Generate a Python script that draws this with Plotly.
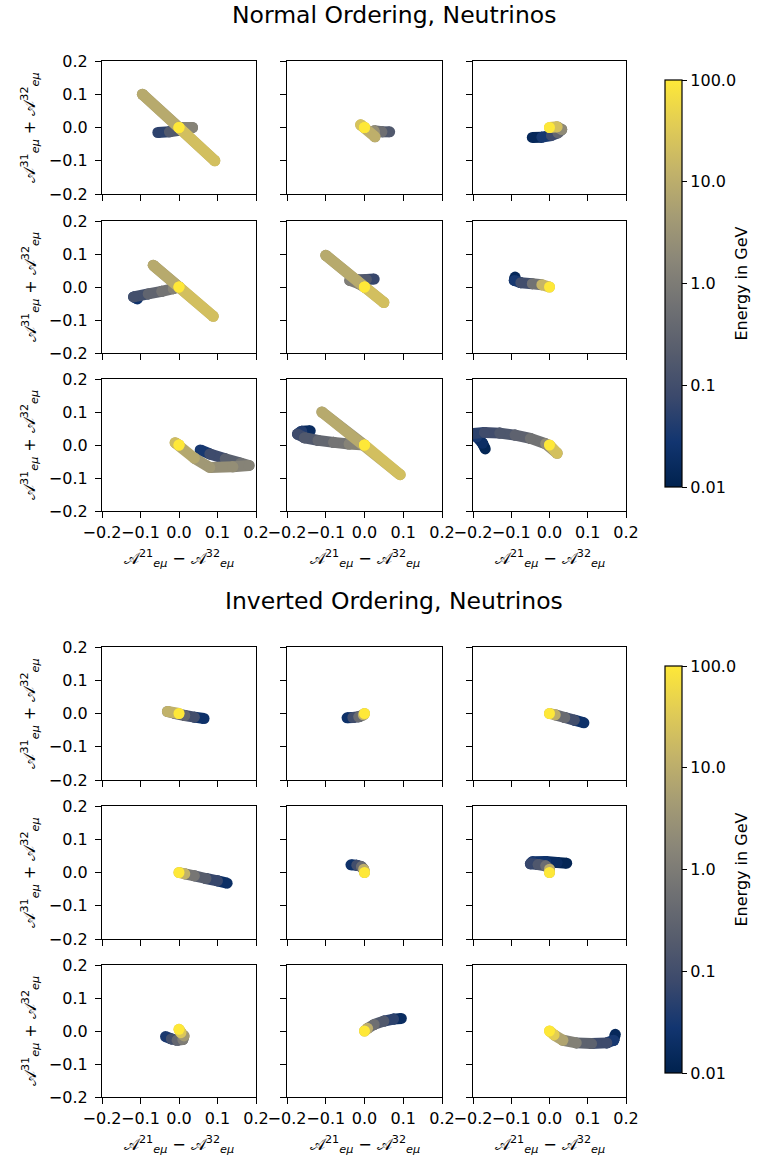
import math
import plotly.graph_objects as go

W, H = 780, 1164

# ---------------- data ----------------
# Normal ordering panels (row-major)
no1_x = [-0.055, -0.025, 0.005, 0.035, 0.0, -0.095, 0.093, 0.0, 0.0]
no1_y = [-0.015, -0.013, -0.008, 0.0, 0.0, 0.1, -0.1, 0.0, 0.0]
no1_e = [0.03, 0.1, 0.3, 1.0, 2.0, 5.0, 15.0, 30.0, 100.0]

no2_x = [0.065, 0.045, 0.025, 0.027, -0.01, 0.0, 0.0]
no2_y = [-0.013, -0.013, -0.01, -0.028, 0.008, 0.0, 0.0]
no2_e = [0.1, 0.3, 1.0, 6.0, 20.0, 30.0, 100.0]

no3_x = [-0.045, -0.02, 0.005, 0.022, 0.032, 0.02, 0.0]
no3_y = [-0.03, -0.029, -0.024, -0.016, -0.006, 0.002, 0.0]
no3_e = [0.01, 0.02, 0.05, 0.15, 0.8, 5.0, 100.0]

no4_x = [-0.108, -0.118, -0.08, -0.045, -0.015, 0.0, -0.067, 0.089, 0.0, 0.0]
no4_y = [-0.036, -0.03, -0.021, -0.013, -0.005, 0.0, 0.066, -0.089, 0.0, 0.0]
no4_e = [0.01, 0.06, 0.2, 0.5, 1.0, 2.0, 5.0, 15.0, 30.0, 100.0]

no5_x = [0.025, 0.005, -0.02, -0.038, -0.015, 0.0, -0.1, 0.05, 0.0, 0.0]
no5_y = [0.024, 0.023, 0.022, 0.02, 0.01, 0.0, 0.096, -0.047, 0.0, 0.0]
no5_e = [0.05, 0.1, 0.3, 0.8, 1.5, 2.5, 5.0, 15.0, 30.0, 100.0]

no6_x = [-0.09, -0.092, -0.075, -0.045, -0.02, 0.0]
no6_y = [0.03, 0.02, 0.013, 0.01, 0.007, 0.0]
no6_e = [0.01, 0.02, 0.05, 0.2, 2.0, 100.0]

no7_x = [0.055, 0.08, 0.12, 0.16, 0.182, 0.14, 0.08, 0.04, -0.01, 0.0, 0.0]
no7_y = [-0.015, -0.027, -0.042, -0.055, -0.062, -0.066, -0.068, -0.04, 0.007, 0.0, 0.0]
no7_e = [0.02, 0.05, 0.15, 0.4, 1.0, 2.0, 3.0, 5.0, 12.0, 30.0, 100.0]

no8_x = [-0.14, -0.162, -0.173, -0.155, -0.12, -0.08, -0.04, 0.0, -0.11, 0.092, 0.0, 0.0]
no8_y = [0.043, 0.042, 0.033, 0.022, 0.014, 0.008, 0.003, 0.0, 0.1, -0.09, 0.0, 0.0]
no8_e = [0.01, 0.03, 0.06, 0.12, 0.25, 0.5, 1.0, 2.0, 5.0, 15.0, 30.0, 100.0]

no9_x = [-0.168, -0.175, -0.19, -0.205, -0.17, -0.13, -0.09, -0.05, -0.01, 0.02, 0.0]
no9_y = [-0.012, 0.005, 0.025, 0.034, 0.038, 0.036, 0.03, 0.02, 0.004, -0.025, 0.0]
no9_e = [0.01, 0.015, 0.025, 0.04, 0.07, 0.12, 0.2, 0.4, 1.0, 5.0, 100.0]

# Inverted ordering panels (row-major)
io1_x = [0.065, 0.04, 0.015, -0.01, -0.03, 0.0]
io1_y = [-0.015, -0.011, -0.006, 0.0, 0.006, 0.0]
io1_e = [0.01, 0.05, 0.2, 0.6, 1.5, 100.0]

io2_x = [-0.045, -0.03, -0.015, -0.003, 0.0]
io2_y = [-0.013, -0.012, -0.01, -0.004, 0.0]
io2_e = [0.01, 0.05, 0.2, 1.0, 100.0]

io3_x = [0.09, 0.065, 0.04, 0.015, 0.0]
io3_y = [-0.028, -0.02, -0.012, -0.004, 0.0]
io3_e = [0.01, 0.05, 0.2, 1.0, 100.0]

io4_x = [0.125, 0.1, 0.07, 0.04, 0.015, 0.0]
io4_y = [-0.032, -0.025, -0.018, -0.01, -0.004, 0.0]
io4_e = [0.01, 0.04, 0.12, 0.4, 1.5, 100.0]

io5_x = [-0.035, -0.02, -0.008, -0.002, 0.0]
io5_y = [0.023, 0.022, 0.018, 0.01, 0.0]
io5_e = [0.01, 0.05, 0.2, 1.0, 100.0]

io6_x = [0.045, 0.02, -0.01, -0.045, -0.05, -0.03, -0.01, 0.0, 0.0]
io6_y = [0.028, 0.03, 0.033, 0.032, 0.026, 0.024, 0.02, 0.01, 0.0]
io6_e = [0.01, 0.015, 0.02, 0.03, 0.05, 0.1, 0.25, 1.0, 100.0]

io7_x = [-0.035, -0.02, -0.005, 0.01, 0.013, 0.005, 0.0]
io7_y = [-0.017, -0.024, -0.028, -0.026, -0.015, -0.005, 0.005]
io7_e = [0.02, 0.06, 0.2, 0.6, 2.0, 8.0, 100.0]

io8_x = [0.095, 0.075, 0.05, 0.025, 0.008, 0.0]
io8_y = [0.038, 0.036, 0.03, 0.02, 0.008, 0.0]
io8_e = [0.01, 0.03, 0.1, 0.3, 1.0, 100.0]

io9_x = [0.172, 0.168, 0.15, 0.11, 0.07, 0.035, 0.012, 0.0]
io9_y = [-0.01, -0.028, -0.036, -0.038, -0.036, -0.028, -0.012, 0.0]
io9_e = [0.01, 0.02, 0.05, 0.15, 0.5, 3.0, 15.0, 100.0]

axis_ticks = [-0.2, -0.1, 0.0, 0.1, 0.2]
axis_ticktext = ["\u22120.2", "\u22120.1", "0.0", "0.1", "0.2"]
cbar_ticks = [0.01, 0.1, 1.0, 10.0, 100.0]
cbar_ticktext = ["0.01", "0.1", "1.0", "10.0", "100.0"]
cbar_label = "Energy in GeV"
group_titles = ["Normal Ordering, Neutrinos", "Inverted Ordering, Neutrinos"]

no_panels = [(no1_x, no1_y, no1_e), (no2_x, no2_y, no2_e), (no3_x, no3_y, no3_e),
             (no4_x, no4_y, no4_e), (no5_x, no5_y, no5_e), (no6_x, no6_y, no6_e),
             (no7_x, no7_y, no7_e), (no8_x, no8_y, no8_e), (no9_x, no9_y, no9_e)]
io_panels = [(io1_x, io1_y, io1_e), (io2_x, io2_y, io2_e), (io3_x, io3_y, io3_e),
             (io4_x, io4_y, io4_e), (io5_x, io5_y, io5_e), (io6_x, io6_y, io6_e),
             (io7_x, io7_y, io7_e), (io8_x, io8_y, io8_e), (io9_x, io9_y, io9_e)]

# ---------------- style ----------------
FONT = "DejaVu Sans"
CIVIDIS = ['#00224e', '#123570', '#3b496c', '#575d6d', '#707173',
           '#8a8678', '#a59c74', '#c3b369', '#e1cc55', '#fee838']
CSCALE = [[i / (len(CIVIDIS) - 1), c] for i, c in enumerate(CIVIDIS)]
LMIN, LMAX = -2.0, 2.0
STROKE = 11


def hex2rgb(h):
    return tuple(int(h[i:i + 2], 16) for i in (1, 3, 5))


def cmap(t):
    t = min(max(t, 0.0), 1.0)
    n = len(CIVIDIS) - 1
    i = min(int(t * n), n - 1)
    f = t * n - i
    a, b = hex2rgb(CIVIDIS[i]), hex2rgb(CIVIDIS[i + 1])
    return 'rgb(%d,%d,%d)' % tuple(round(a[k] + (b[k] - a[k]) * f) for k in range(3))


cols_px = [(102, 256), (287, 442), (473, 626)]
rows_px = [[(61, 194), (221, 353), (379, 511)],
           [(647, 780), (806, 939), (965, 1097)]]
cbar_px = [(80, 487), (666, 1073)]
title_y = [15, 601]
xlabel_y = [558, 1144]

fig = go.Figure()
layout = dict(width=W, height=H,
              margin=dict(l=0, r=0, t=0, b=0, pad=0, autoexpand=False),
              paper_bgcolor='white', plot_bgcolor='white',
              font=dict(family=FONT, size=16, color='black'),
              showlegend=False, annotations=[])

XLAB = "\U0001D49C<sup>21</sup><sub><i>e\u03bc</i></sub> \u2212 \U0001D49C<sup>32</sup><sub><i>e\u03bc</i></sub>"
YLAB = "\U0001D49C<sup>31</sup><sub><i>e\u03bc</i></sub> + \U0001D49C<sup>32</sup><sub><i>e\u03bc</i></sub>"

for g, panels in enumerate([no_panels, io_panels]):
    cax = 'coloraxis' if g == 0 else 'coloraxis2'
    c0, c1 = cbar_px[g]
    layout[cax] = dict(
        colorscale=CSCALE, cmin=LMIN, cmax=LMAX,
        colorbar=dict(
            x=665 / W, xanchor='left', xpad=0, ypad=0,
            y=1 - (c0 + c1) / 2 / H, yanchor='middle',
            len=(c1 - c0) / H, lenmode='fraction',
            thickness=17, thicknessmode='pixels',
            outlinecolor='black', outlinewidth=1.2,
            ticks='outside', ticklen=5, tickwidth=1.2, tickcolor='black',
            tickvals=[math.log10(v) for v in cbar_ticks], ticktext=cbar_ticktext,
            tickfont=dict(family=FONT, size=16, color='black'),
        ))
    layout['annotations'].append(dict(
        text=cbar_label, x=741 / W, y=1 - (c0 + c1) / 2 / H, xref='paper', yref='paper',
        xanchor='center', yanchor='middle', textangle=-90, showarrow=False,
        font=dict(family=FONT, size=16, color='black')))
    layout['annotations'].append(dict(
        text=group_titles[g], x=394 / W, y=1 - title_y[g] / H, xref='paper', yref='paper',
        xanchor='center', yanchor='middle', showarrow=False,
        font=dict(family=FONT, size=23.5, color='black')))
    for r in range(3):
        y0, y1 = rows_px[g][r]
        layout['annotations'].append(dict(
            text=YLAB, x=30 / W, y=1 - (y0 + y1) / 2 / H, xref='paper', yref='paper',
            xanchor='center', yanchor='middle', textangle=-90, showarrow=False,
            font=dict(family=FONT, size=16, color='black')))
        for c in range(3):
            k = g * 9 + r * 3 + c + 1
            x0, x1 = cols_px[c]
            xn = 'xaxis' if k == 1 else f'xaxis{k}'
            yn = 'yaxis' if k == 1 else f'yaxis{k}'
            xr = 'x' if k == 1 else f'x{k}'
            yr = 'y' if k == 1 else f'y{k}'
            common = dict(range=[-0.2, 0.2], tickmode='array', tickvals=axis_ticks,
                          ticktext=axis_ticktext, showgrid=False, zeroline=False,
                          showline=True, linecolor='black', linewidth=1.2, mirror=True,
                          ticks='outside', ticklen=6, tickwidth=1.2, tickcolor='black',
                          tickangle=0, fixedrange=True, automargin=False,
                          tickfont=dict(family=FONT, size=16, color='black'))
            layout[xn] = dict(common, domain=[x0 / W, x1 / W], anchor=yr,
                              showticklabels=(r == 2), ticklabelstandoff=1)
            layout[yn] = dict(common, domain=[1 - y1 / H, 1 - y0 / H], anchor=xr,
                              showticklabels=(c == 0), ticklabelstandoff=4)

            px_, py_, pe_ = panels[r * 3 + c]
            le = [math.log10(v) for v in pe_]
            for i in range(len(px_) - 1):
                t = ((le[i] + le[i + 1]) / 2 - LMIN) / (LMAX - LMIN)
                col = cmap(t)
                fig.add_trace(go.Scatter(
                    x=[px_[i], px_[i + 1]], y=[py_[i], py_[i + 1]],
                    mode='lines+markers', line=dict(color=col, width=STROKE),
                    marker=dict(color=col, size=STROKE),
                    xaxis=xr, yaxis=yr, hoverinfo='skip', showlegend=False))
            fig.add_trace(go.Scatter(
                x=[px_[-1]], y=[py_[-1]], mode='markers',
                marker=dict(color=[le[-1]], coloraxis=cax, size=STROKE),
                xaxis=xr, yaxis=yr, hoverinfo='skip', showlegend=False))
        if r == 2:
            for c in range(3):
                x0, x1 = cols_px[c]
                layout['annotations'].append(dict(
                    text=XLAB, x=(x0 + x1) / 2 / W, y=1 - xlabel_y[g] / H,
                    xref='paper', yref='paper', xanchor='center', yanchor='middle',
                    showarrow=False, font=dict(family=FONT, size=16, color='black')))

fig.update_layout(**layout)
fig.write_html("out.html", post_script="document.body.style.margin='0';")
